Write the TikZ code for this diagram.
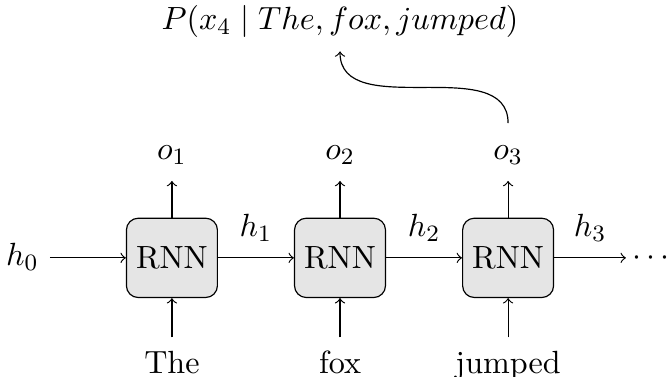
\documentclass[11pt,tikz,border=0pt]{standalone}
\usepackage{amsmath,amssymb}
\usepackage{tikz}
\usetikzlibrary{positioning,calc}

\begin{document}
\begin{tikzpicture}[
        node distance=0.91cm,
        rnn/.style={draw,rounded corners=4pt,fill=gray!20,inner xsep=0pt,
                    minimum width=1.09cm,minimum height=0.95cm},
        lbl/.style={text height=8.5pt,text depth=3.5pt},
        >=to
      ]
      \useasboundingbox (-2.06,-1.425) rectangle (5.98,3.09);
      % cells
      \node[rnn] (R1) at (0,0) {RNN};
      \node[rnn] (R2) [right=of R1] {RNN};
      \node[rnn] (R3) [right=of R2] {RNN};
      \node[lbl] (H0) [left=of R1] {$h_0$};
      \node[lbl,inner xsep=2pt] (Dots) [right=0.86cm of R3] {$\cdots$};
      % outputs
      \node[lbl] (O1) [above=0.44cm of R1] {$o_1$};
      \node[lbl] (O2) [above=0.44cm of R2] {$o_2$};
      \node[lbl] (O3) [above=0.44cm of R3] {$o_3$};
      \node[lbl] (Prob) [above=0.86cm of O2] {$P(x_4 \mid The, fox, jumped)$};
      % inputs
      \node[lbl] (W1) [below=0.47cm of R1] {The};
      \node[lbl] (W2) [below=0.47cm of R2] {fox};
      \node[lbl] (W3) [below=0.47cm of R3] {jumped};

      \draw[->] (H0) -- (R1);
      \draw[->] (R1) -- node[lbl,above]{$h_1$} (R2);
      \draw[->] (R2) -- node[lbl,above]{$h_2$} (R3);
      \draw[->] (R3) -- node[lbl,above]{$h_3$} (Dots);
      \draw[->] (R1) -- (O1);
      \draw[->] (R2) -- (O2);
      \draw[->] (R3) -- (O3);
      \draw[->] (W1) -- (R1);
      \draw[->] (W2) -- (R2);
      \draw[->] (W3) -- (R3);
      \draw[->] (O3) to[out=90,in=-90] (Prob);
    \end{tikzpicture}
\end{document}
